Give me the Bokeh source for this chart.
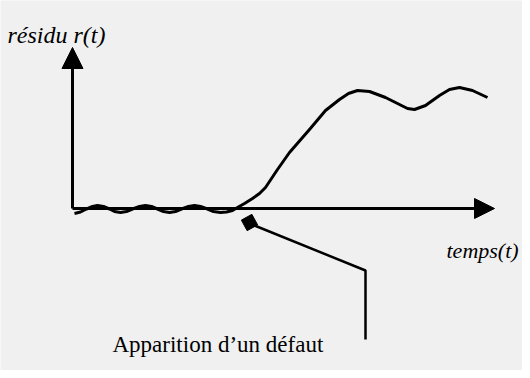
from bokeh.plotting import figure
from bokeh.models import Range1d, Arrow, NormalHead
from bokeh.core.properties import value
from bokeh.embed import file_html
from bokeh.resources import INLINE

# residual curve r(t): small oscillation (noise) then rise after the fault
t_vals = [2, 8, 14, 20, 25, 31, 37, 42, 48, 54, 60, 67, 73, 79, 85, 91, 97, 103,
          109, 116, 122, 128, 135, 141, 148, 154, 160, 165, 172, 180, 187, 193,
          205, 217, 237, 253, 267, 276, 285, 297, 313, 327, 335, 342, 353, 367,
          377, 387, 400, 415]
r_vals = [-5, -3.5, -0.5, 2, 3, 2, -0.5, -3, -4, -3, -0.5, 2, 3, 2, -0.5, -3, -4, -3,
          -0.5, 2, 3, 2, -0.5, -3, -4, -3.5, -2, 1, 5, 10, 15, 21,
          39, 56, 79, 98, 109, 115, 118, 117, 111, 104, 100, 99, 103, 113,
          119, 121, 118, 111]

# axes extents
t_axis_end = 422
r_axis_end = 161

# fault marker and leader line
fault_t = [177]
fault_r = [-14]
leader_t = [182, 293, 293]
leader_r = [-17, -62, -131]

# labels
labels = ["résidu r(t)", "temps(t)", "Apparition d\u2019un défaut"]
label_t = [-65, 374, 40]
label_r = [174, -42, -136]

BG = "#f0f0f0"
p = figure(width=522, height=370, x_range=Range1d(-72, 450), y_range=Range1d(-162, 208),
           output_backend="svg", toolbar_location=None, min_border=0)
p.axis.visible = False
p.grid.visible = False
p.outline_line_color = None
p.background_fill_color = BG
p.border_fill_color = BG

# axes arrows
p.add_layout(Arrow(end=NormalHead(size=21, fill_color="black", line_color="black"),
                   x_start=0, y_start=0, x_end=0, y_end=r_axis_end,
                   line_width=3, line_color="black"))
p.add_layout(Arrow(end=NormalHead(size=20, fill_color="black", line_color="black"),
                   x_start=0, y_start=0, x_end=t_axis_end, y_end=0,
                   line_width=3, line_color="black"))

# curve
p.line(t_vals, r_vals, line_width=3, line_color="black", line_join="round")

# leader line and marker
p.line(leader_t, leader_r, line_width=2.5, line_color="black")
p.scatter(fault_t, fault_r, marker="square", size=12, angle=0.5,
          fill_color="black", line_color="black")

# labels
p.text([label_t[0]], [label_r[0]], text=[labels[0]], text_font=value("Liberation Serif"),
       text_font_style="italic", text_font_size="24px", text_baseline="alphabetic",
       text_color="black")
p.text([label_t[1]], [label_r[1]], text=[labels[1]], text_font=value("Liberation Serif"),
       text_font_style="italic", text_font_size="22px", text_baseline="alphabetic",
       text_color="black")
p.text([label_t[2]], [label_r[2]], text=[labels[2]], text_font=value("Liberation Serif"),
       text_font_size="23px", text_baseline="alphabetic", text_color="black")

open("out.html", "w").write(file_html(p, INLINE))
